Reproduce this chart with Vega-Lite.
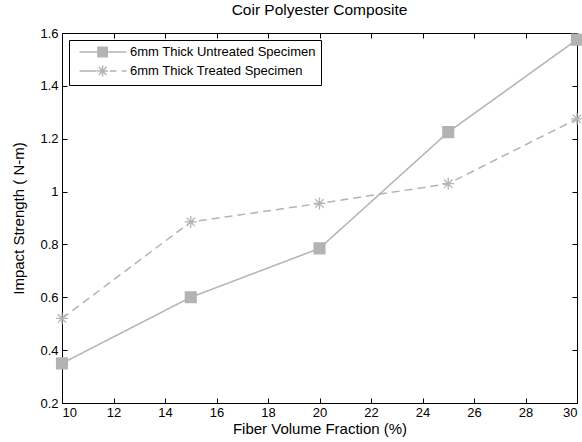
{
  "$schema": "https://vega.github.io/schema/vega-lite/v6.json",
  "width": 515,
  "height": 370,
  "autosize": {"type": "none"},
  "padding": {"left": 62, "top": 33, "right": 5, "bottom": 39},
  "background": "white",
  "title": {"text": "Coir Polyester Composite", "fontSize": 15.5, "fontWeight": "normal", "font": "Liberation Sans", "color": "black", "offset": 9},
  "config": {
    "view": {"stroke": "black", "strokeWidth": 1},
    "axis": {
      "domainColor": "black", "tickColor": "black", "labelColor": "black", "titleColor": "black",
      "labelFont": "Liberation Sans", "titleFont": "Liberation Sans", "labelFontSize": 13, "titleFontSize": 15,
      "titleFontWeight": "normal", "grid": false, "tickSize": -5, "domainWidth": 1, "tickWidth": 1
    },
    "legend": {"labelFont": "Liberation Sans", "labelFontSize": 13, "labelColor": "black", "labelLimit": 400}
  },
  "data": {"values": [
    {"fraction": 10, "strength": 0.35, "series": "6mm Thick Untreated Specimen"},
    {"fraction": 15, "strength": 0.60, "series": "6mm Thick Untreated Specimen"},
    {"fraction": 20, "strength": 0.785, "series": "6mm Thick Untreated Specimen"},
    {"fraction": 25, "strength": 1.225, "series": "6mm Thick Untreated Specimen"},
    {"fraction": 30, "strength": 1.575, "series": "6mm Thick Untreated Specimen"},
    {"fraction": 10, "strength": 0.52, "series": "6mm Thick Treated Specimen"},
    {"fraction": 15, "strength": 0.885, "series": "6mm Thick Treated Specimen"},
    {"fraction": 20, "strength": 0.955, "series": "6mm Thick Treated Specimen"},
    {"fraction": 25, "strength": 1.03, "series": "6mm Thick Treated Specimen"},
    {"fraction": 30, "strength": 1.275, "series": "6mm Thick Treated Specimen"}
  ]},
  "resolve": {"axis": {"x": "independent", "y": "independent"}, "scale": {"shape": "independent"}},
  "layer": [
    {
      "mark": {"type": "line", "strokeWidth": 1.5},
      "encoding": {
        "x": {"field": "fraction", "type": "quantitative", "scale": {"domain": [10, 30], "nice": false},
              "axis": {"orient": "bottom", "values": [10,12,14,16,18,20,22,24,26,28,30], "title": "Fiber Volume Fraction (%)", "labelPadding": 8, "titlePadding": 2}},
        "y": {"field": "strength", "type": "quantitative", "scale": {"domain": [0.2, 1.6], "nice": false, "zero": false},
              "axis": {"orient": "left", "values": [0.2,0.4,0.6,0.8,1,1.2,1.4,1.6], "format": "~g", "title": "Impact Strength ( N-m)", "labelPadding": 9, "titlePadding": 13}},
        "color": {"field": "series", "type": "nominal",
                  "scale": {"domain": ["6mm Thick Untreated Specimen", "6mm Thick Treated Specimen"], "range": ["#b3b3b3", "#b3b3b3"]},
                  "legend": null},
        "strokeDash": {"field": "series", "type": "nominal",
                       "scale": {"domain": ["6mm Thick Untreated Specimen", "6mm Thick Treated Specimen"], "range": [[1, 0], [8, 5]]},
                       "legend": null}
      }
    },
    {
      "mark": {"type": "point", "filled": true, "size": 144, "strokeWidth": 1.3, "opacity": 1},
      "encoding": {
        "x": {"field": "fraction", "type": "quantitative", "scale": {"domain": [10, 30], "nice": false},
              "axis": {"orient": "top", "values": [10,12,14,16,18,20,22,24,26,28,30], "labels": false, "title": null}},
        "y": {"field": "strength", "type": "quantitative", "scale": {"domain": [0.2, 1.6], "nice": false, "zero": false},
              "axis": {"orient": "right", "values": [0.2,0.4,0.6,0.8,1,1.2,1.4,1.6], "labels": false, "title": null}},
        "color": {"field": "series", "type": "nominal",
                  "scale": {"domain": ["6mm Thick Untreated Specimen", "6mm Thick Treated Specimen"], "range": ["#b3b3b3", "#b3b3b3"]},
                  "legend": null},
        "stroke": {"field": "series", "type": "nominal",
                   "scale": {"domain": ["6mm Thick Untreated Specimen", "6mm Thick Treated Specimen"], "range": ["#b3b3b3", "#b3b3b3"]}, "legend": null},
        "shape": {"field": "series", "type": "nominal",
                  "scale": {"domain": ["6mm Thick Untreated Specimen", "6mm Thick Treated Specimen"],
                            "range": ["M-0.9,-0.9H0.9V0.9H-0.9Z", "M-1,0H1M0,-1V1M-0.7,-0.7L0.7,0.7M-0.7,0.7L0.7,-0.7"]},
                  "legend": null}
      }
    },
    {
      "transform": [{"filter": "datum.fraction < 0"}],
      "mark": {"type": "point", "filled": true, "size": 144, "strokeWidth": 0, "opacity": 1},
      "encoding": {
        "x": {"field": "fraction", "type": "quantitative", "scale": {"domain": [10, 30], "nice": false}, "axis": null},
        "y": {"field": "strength", "type": "quantitative", "scale": {"domain": [0.2, 1.6], "nice": false, "zero": false}, "axis": null},
        "fill": {"value": "#b3b3b3"},
        "shape": {"field": "series", "type": "nominal",
                  "scale": {"domain": ["6mm Thick Untreated Specimen", "6mm Thick Treated Specimen"],
                            "range": [
                              "M-0.25,-0.12H7.6V0.12H-0.25ZM2.7,-0.9H4.5V0.9H2.7Z",
                              "M-0.25,-0.12H2.6V0.12H-0.25ZM4.8,-0.12H5.9V0.12H4.8ZM6.8,-0.12H7.6V0.12H6.8ZM2.7,-0.12H4.5V0.12H2.7ZM3.48,-0.9H3.72V0.9H3.48ZM3.035,-0.735L4.335,0.565L4.165,0.735L2.865,-0.565ZM2.865,0.565L4.165,-0.735L4.335,-0.565L3.035,0.735Z"
                            ]},
                  "legend": {"title": null, "orient": "top-left", "offset": 7, "padding": 5, "rowPadding": 1,
                             "strokeColor": "black", "fillColor": "white", "cornerRadius": 0, "labelOffset": 42,
                             "symbolOpacity": 1, "symbolSize": 144}}
      }
    }
  ]
}
